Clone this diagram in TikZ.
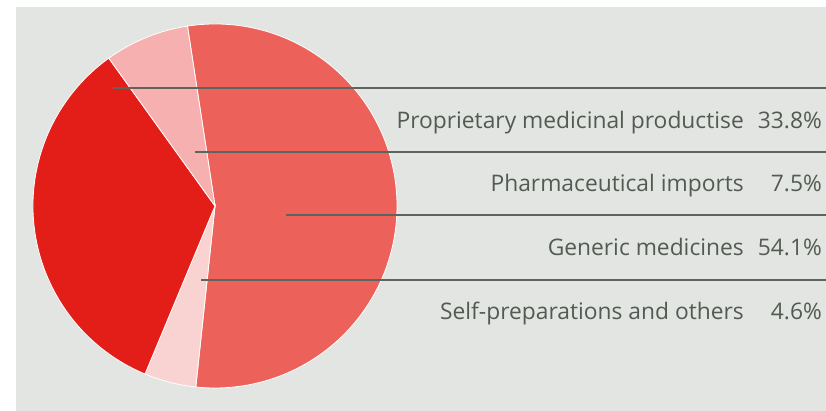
\documentclass[tikz,border=0pt]{standalone}
\usepackage{fontspec}
\setmainfont{Open Sans}
\usepackage{tikz}
\definecolor{bgGrey}{HTML}{E3E5E2}
\definecolor{genRed}{HTML}{EC625B}
\definecolor{propRed}{HTML}{E31E18}
\definecolor{pharmPink}{HTML}{F6B0AF}
\definecolor{selfPink}{HTML}{F9D3D1}
\definecolor{ruleGrey}{HTML}{5D635D}
\definecolor{textGrey}{HTML}{525B52}
\tikzset{
  slice/.style={draw=white,line width=0.8pt},
  rule/.style={draw=ruleGrey,line width=1.2pt},
  lab/.style={anchor=base east,inner sep=0pt,text=textGrey,font=\fontsize{22.8}{26}\selectfont},
}

\begin{document}
\begin{tikzpicture}[x=1pt,y=1pt]
  \useasboundingbox (0,0) rectangle (826,411);
  \fill[bgGrey] (16,0) rectangle (826,404);
  \coordinate (O) at (215,205);
  % slices, clockwise from the top
  \filldraw[slice,fill=genRed] (O) -- ++(98.7:182) arc[start angle=98.7,end angle=-96.06,radius=182] -- cycle;
  \filldraw[slice,fill=selfPink] (O) -- ++(-96.06:182) arc[start angle=-96.06,end angle=-112.62,radius=182] -- cycle;
  \filldraw[slice,fill=propRed] (O) -- ++(-112.62:182) arc[start angle=-112.62,end angle=-234.3,radius=182] -- cycle;
  \filldraw[slice,fill=pharmPink] (O) -- ++(-234.3:182) arc[start angle=-234.3,end angle=-261.3,radius=182] -- cycle;
  % leader lines
  \coordinate (prop) at (113,323);
  \coordinate (propEnd) at (826,323);
  \coordinate (pharm) at (195,259);
  \coordinate (pharmEnd) at (826,259);
  \coordinate (gen) at (286,196);
  \coordinate (genEnd) at (826,196);
  \coordinate (self) at (201,131);
  \coordinate (selfEnd) at (826,131);
  \draw[rule] (prop) -- (propEnd);
  \draw[rule] (pharm) -- (pharmEnd);
  \draw[rule] (gen) -- (genEnd);
  \draw[rule] (self) -- (selfEnd);
  % labels
  \node[lab] (propLab) at (744,282) {Proprietary medicinal productise};
  \node[lab] (propVal) at (822,282) {33.8\%};
  \node[lab] (pharmLab) at (744,219) {Pharmaceutical imports};
  \node[lab] (pharmVal) at (822,219) {7.5\%};
  \node[lab] (genLab) at (744,155) {Generic medicines};
  \node[lab] (genVal) at (822,155) {54.1\%};
  \node[lab] (selfLab) at (744,91) {Self-preparations and others};
  \node[lab] (selfVal) at (822,91) {4.6\%};
\end{tikzpicture}
\end{document}
